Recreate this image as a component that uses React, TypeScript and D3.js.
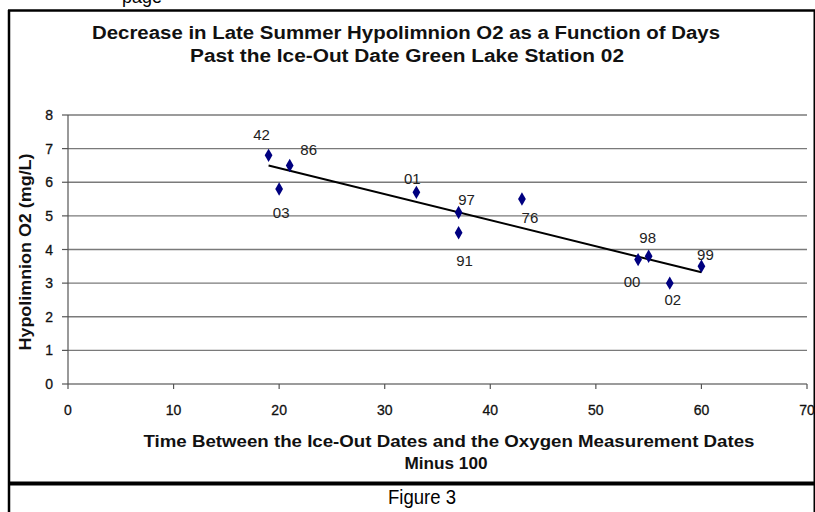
import React from "react";
import * as d3 from "d3";

const years = ["42", "03", "86", "01", "97", "91", "76", "00", "98", "02", "99"];
const daysPast = [19, 20, 21, 33, 37, 37, 43, 54, 55, 57, 60];
const oxygen = [6.8, 5.8, 6.5, 5.7, 5.1, 4.5, 5.5, 3.7, 3.8, 3.0, 3.5];
// label offsets (dx, dy) in px relative to point
const labelDx = [-7, 2, 19, -4, 8, 6, 8, -6, -1, 3, 4];
const labelDy = [-21, 24, -16, -14, -13, 28, 18, 22, -19, 16, -12];
const xTicks = [0, 10, 20, 30, 40, 50, 60, 70];
const yTicks = [0, 1, 2, 3, 4, 5, 6, 7, 8];

export default function App() {
  const W = 815, H = 512;
  const x = d3.scaleLinear().domain([0, 70]).range([68, 807]);
  const y = d3.scaleLinear().domain([0, 8]).range([384, 115]);

  const data = daysPast.map((d, i) => ({ d, o: oxygen[i], yr: years[i], dx: labelDx[i], dy: labelDy[i] }));
  const mx = d3.mean(daysPast)!;
  const my = d3.mean(oxygen)!;
  let sxy = 0, sxx = 0;
  data.forEach((p) => { sxy += (p.d - mx) * (p.o - my); sxx += (p.d - mx) ** 2; });
  const slope = sxy / sxx;
  const icpt = my - slope * mx;
  const x0 = d3.min(daysPast)!, x1 = d3.max(daysPast)!;
  const line = d3.line<[number, number]>().x((p) => x(p[0])).y((p) => y(p[1]));
  const trend = line([[x0, icpt + slope * x0], [x1, icpt + slope * x1]]);
  const diamond = d3.symbol().type(d3.symbolDiamond).size(52)();

  const font = "'Liberation Sans', Arial, sans-serif";
  const narrow = "'Liberation Sans Narrow', 'Liberation Sans', Arial, sans-serif";

  return (
    <svg width={W} height={H} style={{ position: "absolute", left: 0, top: 0, background: "#fff" }}>
      <rect x={0} y={0} width={W} height={H} fill="#fff" />
      <text x={122} y={3} fontFamily={narrow} fontSize={18} fill="#000">page</text>
      {/* frames */}
      <line x1={9} y1={10} x2={9} y2={512} stroke="#000" strokeWidth={2.5} />
      <line x1={814.5} y1={10} x2={814.5} y2={512} stroke="#000" strokeWidth={2} />
      <line x1={8} y1={10.5} x2={815} y2={10.5} stroke="#000" strokeWidth={2.5} />
      <line x1={8} y1={483.5} x2={815} y2={483.5} stroke="#000" strokeWidth={4} />

      {/* title */}
      <text x={406} y={38.5} textAnchor="middle" fontFamily={narrow} fontWeight="bold" fontSize={18} fill="#111"
        textLength={628} lengthAdjust="spacingAndGlyphs">
        Decrease in Late Summer Hypolimnion O2 as a Function of Days
      </text>
      <text x={407} y={61.5} textAnchor="middle" fontFamily={narrow} fontWeight="bold" fontSize={18} fill="#111"
        textLength={434} lengthAdjust="spacingAndGlyphs">
        Past the Ice-Out Date Green Lake Station 02
      </text>

      {/* gridlines */}
      {yTicks.map((t) => (
        <g key={"gy" + t}>
          <line x1={x(0)} x2={x(70)} y1={y(t)} y2={y(t)} stroke="#7a7a7a" strokeWidth={1.3} />
          <line x1={x(0) - 6} x2={x(0)} y1={y(t)} y2={y(t)} stroke="#555" strokeWidth={1.2} />
          <text x={53} y={y(t) + 5} textAnchor="end" fontFamily={font} fontSize={14} fill="#111" stroke="#111" strokeWidth={0.3}>{t}</text>
        </g>
      ))}
      <line x1={x(0)} x2={x(0)} y1={y(8)} y2={y(0)} stroke="#555" strokeWidth={1.2} />
      {xTicks.map((t) => (
        <g key={"gx" + t}>
          <line x1={x(t)} x2={x(t)} y1={y(0)} y2={y(0) + 5} stroke="#555" strokeWidth={1.2} />
          <text x={x(t)} y={y(0) + 31} textAnchor="middle" fontFamily={font} fontSize={14} fill="#111" stroke="#111" strokeWidth={0.3}>{t}</text>
        </g>
      ))}

      {/* axis titles */}
      <text x={449} y={447} textAnchor="middle" fontFamily={narrow} fontWeight="bold" fontSize={16} fill="#111"
        textLength={611} lengthAdjust="spacingAndGlyphs">
        Time Between the Ice-Out Dates  and the Oxygen Measurement Dates
      </text>
      <text x={446} y={469} textAnchor="middle" fontFamily={narrow} fontWeight="bold" fontSize={16} fill="#111"
        textLength={83} lengthAdjust="spacingAndGlyphs">
        Minus 100
      </text>
      <text transform={`translate(31,252) rotate(-90)`} textAnchor="middle" fontFamily={narrow} fontWeight="bold" fontSize={16} fill="#111"
        textLength={197} lengthAdjust="spacingAndGlyphs">
        Hypolimnion O2 (mg/L)
      </text>

      {/* trend line */}
      <path d={trend ?? ""} stroke="#000" strokeWidth={2} fill="none" />

      {/* points */}
      {data.map((p, i) => (
        <g key={"p" + i}>
          <path d={diamond ?? ""} transform={`translate(${x(p.d)},${y(p.o)})`} fill="#000080" />
          <text x={x(p.d) + p.dx} y={y(p.o) + p.dy + 5.5} textAnchor="middle" fontFamily={font} fontSize={15} fill="#222">{p.yr}</text>
        </g>
      ))}

      <text x={422} y={504} textAnchor="middle" fontFamily={narrow} fontSize={20} fill="#000"
        textLength={68} lengthAdjust="spacingAndGlyphs">Figure 3</text>
    </svg>
  );
}
